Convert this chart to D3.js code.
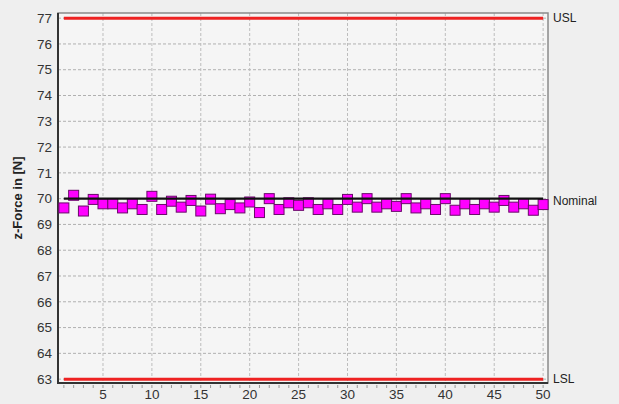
<!DOCTYPE html>
<html>
<head>
<meta charset="UTF-8" />
<script src="https://d3js.org/d3.v7.min.js"></script>
<style>
  body { margin: 0; background: #efefef; font-family: Arial, "Liberation Sans", sans-serif; }
  svg { display: block; }
</style>
</head>
<body>
<svg width="619" height="404"></svg>
<script>
  // samples 1..50
  const values = [
    69.64, 70.13, 69.52, 69.97, 69.80, 69.80, 69.64, 69.80, 69.58, 70.09,
    69.58, 69.90, 69.67, 69.93, 69.52, 69.98, 69.61, 69.77, 69.64, 69.87,
    69.46, 70.00, 69.58, 69.84, 69.74, 69.84, 69.58, 69.80, 69.58, 69.97,
    69.67, 70.00, 69.67, 69.80, 69.70, 70.00, 69.64, 69.80, 69.58, 70.00,
    69.55, 69.80, 69.58, 69.80, 69.67, 69.93, 69.67, 69.80, 69.55, 69.77
  ];
  const limits = [
    { name: "USL", value: 77, color: "#ee2222" },
    { name: "Nominal", value: 70, color: "#111111" },
    { name: "LSL", value: 63, color: "#ee2222" }
  ];
  const yTicks = d3.range(63, 78);
  const xTicks = [5, 10, 15, 20, 25, 30, 35, 40, 45, 50];

  const svg = d3.select("svg");
  const m = { left: 58, right: 548, top: 13, bottom: 383 };

  const x = d3.scaleLinear().domain([0.4, 50.5]).range([m.left, m.right]);
  const y = d3.scaleLinear().domain([62.85, 77.2]).range([m.bottom, m.top]);

  // plot background
  svg.append("rect")
    .attr("x", m.left).attr("y", m.top)
    .attr("width", m.right - m.left).attr("height", m.bottom - m.top)
    .attr("fill", "#f5f5f5");

  // grid
  svg.append("g").selectAll("line")
    .data(yTicks)
    .join("line")
    .attr("x1", m.left).attr("x2", m.right)
    .attr("y1", d => y(d)).attr("y2", d => y(d))
    .attr("stroke", "#b0b0b0").attr("stroke-dasharray", "3,2");

  svg.append("g").selectAll("line")
    .data(xTicks)
    .join("line")
    .attr("x1", d => x(d)).attr("x2", d => x(d))
    .attr("y1", m.top).attr("y2", m.bottom)
    .attr("stroke", "#bdbdbd").attr("stroke-dasharray", "3,2");

  // frame
  svg.append("rect")
    .attr("x", m.left).attr("y", m.top)
    .attr("width", m.right - m.left).attr("height", m.bottom - m.top)
    .attr("fill", "none").attr("stroke", "#8a8a8a").attr("stroke-width", 1.5);
  svg.append("path")
    .attr("d", `M${m.left},${m.top}V${m.bottom}H${m.right}`)
    .attr("fill", "none").attr("stroke", "#333").attr("stroke-width", 2);

  // y axis labels
  svg.append("g").selectAll("text")
    .data(yTicks)
    .join("text")
    .attr("x", m.left - 6).attr("y", d => y(d))
    .attr("dy", "0.35em").attr("text-anchor", "end")
    .attr("font-size", 13.5).attr("fill", "#333")
    .text(d => d);

  // x minor ticks
  svg.append("g").selectAll("line")
    .data(d3.range(1, 51))
    .join("line")
    .attr("x1", d => x(d)).attr("x2", d => x(d))
    .attr("y1", m.bottom + 2).attr("y2", m.bottom + 5)
    .attr("stroke", "#999");

  svg.append("g").selectAll("text")
    .data(xTicks)
    .join("text")
    .attr("x", d => x(d)).attr("y", 399)
    .attr("text-anchor", "middle")
    .attr("font-size", 13.5).attr("fill", "#333")
    .text(d => d);

  // points
  const s = 10;
  svg.append("g").selectAll("rect")
    .data(values)
    .join("rect")
    .attr("x", (d, i) => x(i + 1) - s / 2)
    .attr("y", d => y(d) - s / 2)
    .attr("width", s).attr("height", s)
    .attr("fill", "#ff00ff")
    .attr("stroke", "#6a0a6a").attr("stroke-width", 1);

  // limit lines (drawn over the points)
  svg.append("g").selectAll("line")
    .data(limits)
    .join("line")
    .attr("x1", x(1)).attr("x2", x(50))
    .attr("y1", d => y(d.value)).attr("y2", d => y(d.value))
    .attr("stroke", d => d.color)
    .attr("stroke-width", d => d.name === "Nominal" ? 2.2 : 3);

  svg.append("g").selectAll("text")
    .data(limits)
    .join("text")
    .attr("x", m.right + 5).attr("y", d => y(d.value) + (d.name === "Nominal" ? 2 : 0))
    .attr("dy", "0.35em")
    .attr("font-size", 12).attr("fill", "#222")
    .text(d => d.name);

  // y title
  svg.append("text")
    .attr("transform", `translate(22,${(m.top + m.bottom) / 2}) rotate(-90)`)
    .attr("text-anchor", "middle")
    .attr("font-size", 13).attr("font-weight", "bold").attr("fill", "#222")
    .text("z-Force in [N]");
</script>
</body>
</html>
